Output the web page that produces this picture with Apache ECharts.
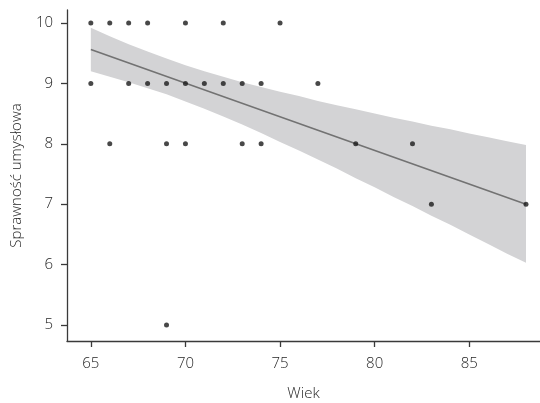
<!DOCTYPE html>
<html>
<head>
<meta charset="UTF-8">
<title></title>
<script type="text/javascript" src="https://cdn.jsdelivr.net/npm/echarts@6/dist/echarts.min.js"></script>
<style type="text/css">
	* { padding: 0; margin: 0; }
	#main { width: 540px; height: 403px; }
</style>
</head>
<body>
<div id="main"></div>
<script type="text/javascript">
// wiek / sprawnosc points
var ages = [65, 66, 67, 68, 70, 72, 75,
	65, 67, 68, 69, 70, 71, 72, 73, 74, 77,
	66, 69, 70, 73, 74, 79, 82,
	83, 88,
	69];
var scores = [10, 10, 10, 10, 10, 10, 10,
	9, 9, 9, 9, 9, 9, 9, 9, 9, 9,
	8, 8, 8, 8, 8, 8, 8,
	7, 7,
	5];

// fitted line + band
var fitX = [65, 88];
var fitY = [9.56, 7.0];
var bandX = [65, 66, 67, 68, 69, 70, 71, 72, 73, 74, 75, 76, 77, 78, 79, 80, 81, 82, 83, 84, 85, 86, 87, 88];
var bandLo = [9.20, 9.11, 9.02, 8.92, 8.82, 8.70, 8.58, 8.45, 8.32, 8.18, 8.03, 7.89, 7.74, 7.59, 7.43, 7.28, 7.12, 6.97, 6.81, 6.66, 6.50, 6.34, 6.18, 6.03];
var bandHi = [9.92, 9.78, 9.65, 9.53, 9.41, 9.30, 9.20, 9.11, 9.02, 8.94, 8.86, 8.79, 8.71, 8.64, 8.57, 8.50, 8.43, 8.37, 8.30, 8.24, 8.17, 8.11, 8.04, 7.98];

var xTicks = [65, 70, 75, 80, 85];
var yTicks = [5, 6, 7, 8, 9, 10];

var pts = ages.map(function(a, i) { return [a, scores[i]]; });
var lineData = fitX.map(function(x, i) { return [x, fitY[i]]; });

var txt = { color: '#262626', fontFamily: 'Open Sans', fontWeight: 300, fontSize: 15 };
var axLine = { lineStyle: { color: '#3a3a3a', width: 1.3 } };

// band polygon: upper edge left->right, lower edge back
function renderBand(params, api) {
	var poly = [];
	for (var i = 0; i < bandX.length; i++) poly.push(api.coord([bandX[i], bandHi[i]]));
	for (var j = bandX.length - 1; j >= 0; j--) poly.push(api.coord([bandX[j], bandLo[j]]));
	return {
		type: 'polygon',
		shape: { points: poly },
		style: { fill: '#d3d3d5' },
		silent: true
	};
}

var myChart = echarts.init(document.getElementById('main'));
myChart.setOption({
	animation: false,
	grid: { left: 67, right: 0, top: 10, bottom: 62, outerBoundsMode: 'none', containLabel: false },
	xAxis: {
		type: 'value',
		min: 63.74,
		max: 88.74,
		name: 'Wiek',
		nameLocation: 'middle',
		nameGap: 45,
		nameTextStyle: txt,
		axisLine: axLine,
		axisTick: { length: 6, lineStyle: axLine.lineStyle, customValues: xTicks },
		axisLabel: Object.assign({ margin: 15, customValues: xTicks }, txt),
		splitLine: { show: false }
	},
	yAxis: {
		type: 'value',
		min: 4.735,
		max: 10.215,
		name: 'Sprawność umysłowa',
		nameLocation: 'middle',
		nameGap: 43,
		nameTextStyle: txt,
		axisLine: axLine,
		axisTick: { length: 6, lineStyle: axLine.lineStyle, customValues: yTicks },
		axisLabel: Object.assign({ margin: 14, customValues: yTicks }, txt),
		splitLine: { show: false }
	},
	series: [{
		type: 'custom',
		renderItem: renderBand,
		data: [[bandX[0], bandLo[0]]],
		z: 1
	}, {
		type: 'line',
		data: lineData,
		symbol: 'none',
		lineStyle: { color: '#727272', width: 1.5 },
		z: 2
	}, {
		type: 'scatter',
		data: pts,
		symbolSize: 5,
		itemStyle: { color: '#1a1a1a' },
		z: 3
	}]
});
</script>
</body>
</html>
